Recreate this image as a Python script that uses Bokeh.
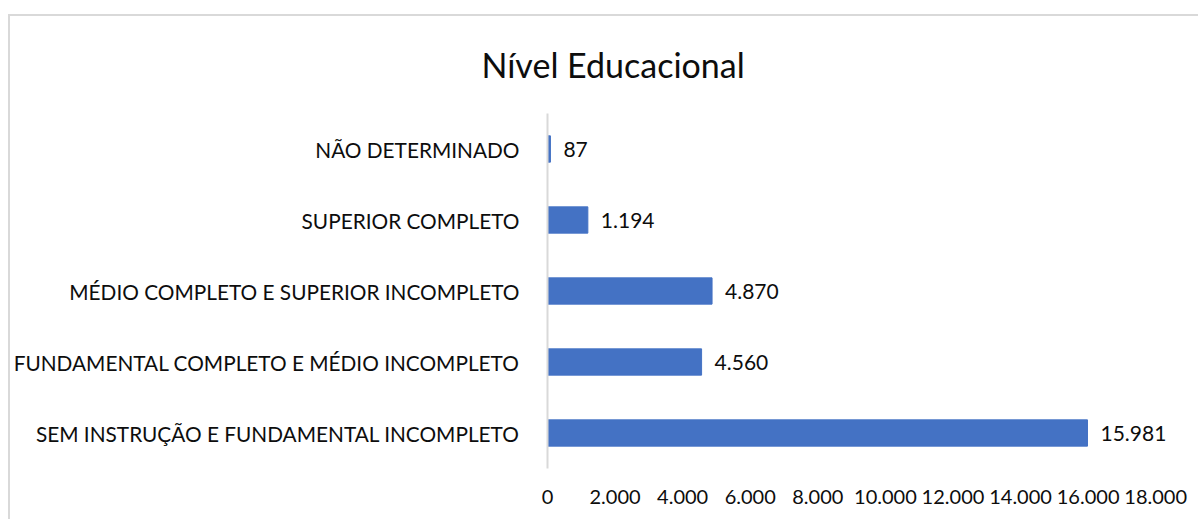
from bokeh.plotting import figure
from bokeh.models import ColumnDataSource, FixedTicker, CustomJSTickFormatter, FactorRange, Range1d
from bokeh.core.properties import value
from bokeh.embed import file_html
from bokeh.resources import INLINE

# ---- data ----
categories = [
    "SEM INSTRUÇÃO E FUNDAMENTAL INCOMPLETO",
    "FUNDAMENTAL COMPLETO E MÉDIO INCOMPLETO",
    "MÉDIO COMPLETO E SUPERIOR INCOMPLETO",
    "SUPERIOR COMPLETO",
    "NÃO DETERMINADO",
]
counts = [15981, 4560, 4870, 1194, 87]
count_labels = ["15.981", "4.560", "4.870", "1.194", "87"]
x_ticks = [0, 2000, 4000, 6000, 8000, 10000, 12000, 14000, 16000, 18000]
title_text = "Nível Educacional"

FONT = "Lato"
TXT = "#0d0d0d"

src = ColumnDataSource(dict(cat=categories, val=counts, lab=count_labels))

p = figure(
    width=1190, height=505,
    y_range=FactorRange(factors=categories),
    x_range=Range1d(0, 19000),
    output_backend="svg", toolbar_location=None,
    min_border_left=537, min_border_right=11,
    min_border_top=97, min_border_bottom=53,
)
p.styles = {"border-top": "2px solid #d9d9d9", "border-left": "2px solid #d9d9d9",
            "margin-top": "14px", "margin-left": "8px"}

p.title.text = title_text
p.title.text_font = FONT
p.title.text_font_size = "34px"
p.title.text_font_style = "normal"
p.title.text_color = TXT
p.title.align = "left"
p.title.vertical_align = "top"
p.title.offset = -66
p.title.standoff = 54

p.hbar(y="cat", right="val", height=0.37, source=src, color="#4472C4")
p.text(x="val", y="cat", text="lab", source=src, x_offset=13,
       text_baseline="middle", text_align="left",
       text_font=value(FONT), text_font_size="21px", text_color=TXT)

p.outline_line_color = None
p.xgrid.grid_line_color = None
p.ygrid.grid_line_color = None

p.xaxis.ticker = FixedTicker(ticks=x_ticks)
p.xaxis.formatter = CustomJSTickFormatter(
    code="return tick.toFixed(0).replace(/\\B(?=(\\d{3})+(?!\\d))/g, '.');")
p.xaxis.axis_line_color = None
p.xaxis.major_tick_line_color = None
p.xaxis.minor_tick_line_color = None
p.xaxis.major_label_standoff = 15
p.xaxis.major_label_text_font = FONT
p.xaxis.major_label_text_font_size = "20px"
p.xaxis.major_label_text_color = TXT

p.yaxis.axis_line_color = "#d9d9d9"
p.yaxis.axis_line_width = 2
p.yaxis.major_tick_line_color = None
p.yaxis.minor_tick_line_color = None
p.yaxis.major_label_standoff = 22
p.yaxis.major_label_text_font = FONT
p.yaxis.major_label_text_font_size = "20.8px"
p.yaxis.major_label_text_color = TXT

open("out.html", "w").write(file_html(p, INLINE))
